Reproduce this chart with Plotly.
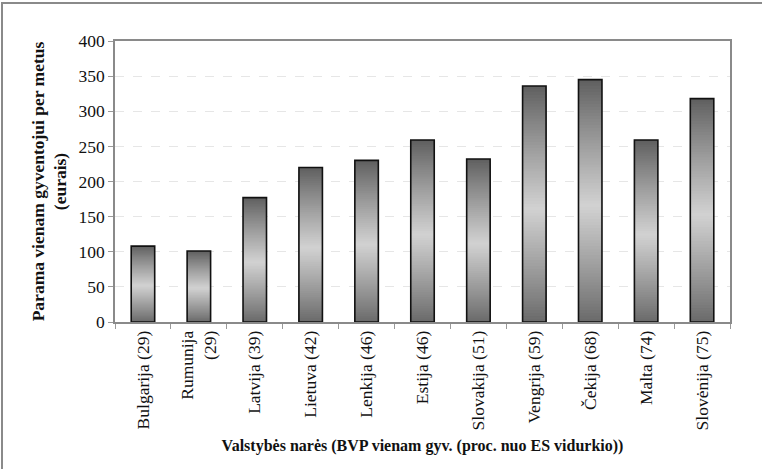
import plotly.graph_objects as go
import numpy as np

categories = ["Bulgarija (29)", "Rumunija<br>\u00a0\u00a0\u00a0\u00a0(29)", "Latvija (39)", "Lietuva (42)", "Lenkija (46)",
              "Estija (46)", "Slovakija (51)", "Vengrija (59)", "Čekija (68)", "Malta (74)", "Slovėnija (75)"]
values = [108, 101, 177, 220, 230, 259, 232, 336, 345, 259, 318]
y_ticks = [0, 50, 100, 150, 200, 250, 300, 350, 400]

FONT = "Liberation Serif"
vals = np.array(values, dtype=float)

fig = go.Figure()

# gradient fill: dark at top and bottom, light in the middle (per bar).
# Bars of decreasing height are layered so each shows only its own band.
N = 80
dark = np.array([0x5e, 0x5e, 0x5e])
light = np.array([0xd2, 0xd2, 0xd2])
for k in range(N - 1, -1, -1):
    f = (k + 0.5) / N  # 0 bottom -> 1 top
    t = 1 - abs(f - 0.48) / 0.52
    t = max(0.0, min(1.0, t)) ** 0.9
    c = dark + (light - dark) * t
    col = "rgb(%d,%d,%d)" % tuple(c.astype(int))
    fig.add_trace(go.Bar(
        x=categories, y=vals * (k + 1) / N,
        marker=dict(color=col, line=dict(width=0)),
        width=0.42, showlegend=False, hoverinfo="skip"))

# outline
fig.add_trace(go.Bar(
    x=categories, y=vals, width=0.42,
    marker=dict(color="rgba(0,0,0,0)", line=dict(color="#111", width=1.6)),
    showlegend=False))

fig.update_layout(
    width=762, height=469,
    barmode="overlay",
    paper_bgcolor="white", plot_bgcolor="white",
    margin=dict(l=115, r=32, t=41, b=147),
    font=dict(family=FONT, color="#111", size=15),
    xaxis=dict(
        type="category",
        tickangle=-90, tickfont=dict(size=17.5, family=FONT, color="#111"),
        showline=True, linecolor="#8a8a8a", linewidth=1.5, mirror=True,
        ticks="outside", tickson="boundaries", ticklen=5, tickcolor="#999",
        showgrid=False,
        title=dict(text="<b>Valstybės narės (BVP vienam gyv. (proc. nuo ES vidurkio))</b>",
                   font=dict(size=16, family=FONT, color="#111"), standoff=10),
    ),
    yaxis=dict(
        range=[0, 400], tickvals=y_ticks, ticktext=[str(v) for v in y_ticks],
        tickfont=dict(size=17.5, family=FONT, color="#111"),
        showline=True, linecolor="#8a8a8a", linewidth=1.5, mirror=True,
        ticks="outside", ticklen=5, tickcolor="#999",
        showgrid=True, gridcolor="#e6e6e6", griddash="dash", gridwidth=1,
        zeroline=False,
        title=dict(text="<b>Parama vienam gyventojui per metus<br>(eurais)</b>",
                   font=dict(size=17.5, family=FONT, color="#111"), standoff=7),
    ),
    shapes=[dict(type="rect", xref="paper", yref="paper",
                 x0=(2 - 115) / 615, x1=1.2, y0=-1, y1=1 + (41 - 3) / 281,
                 line=dict(color="#8a8a8a", width=2), layer="below")],
)

fig.write_html("out.html", config={"displayModeBar": False},
               post_script="document.body.style.margin='0';document.body.style.overflow='hidden';")
